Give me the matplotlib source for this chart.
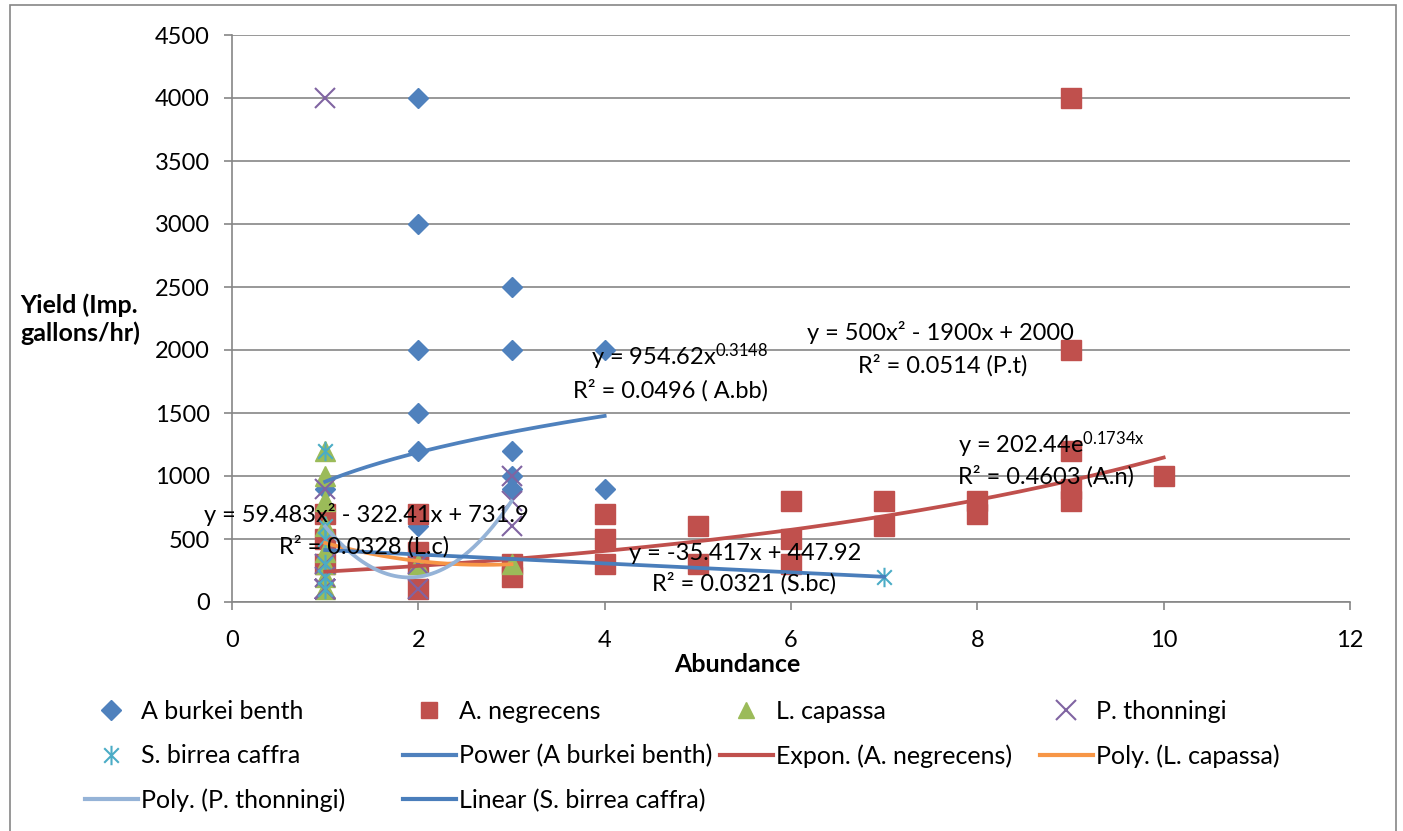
import numpy as np
import matplotlib
matplotlib.use("Agg")
from matplotlib import pyplot as plt
from matplotlib.path import Path
from matplotlib.lines import Line2D
from matplotlib.patches import Rectangle

plt.rcParams['font.family'] = ['Lato', 'DejaVu Sans']
plt.rcParams['mathtext.fontset'] = 'custom'
plt.rcParams['mathtext.rm'] = 'Lato'
plt.rcParams['mathtext.it'] = 'Lato'

# --- data ---
burkei_x = [1, 2, 2, 2, 2, 2, 2, 3, 3, 3, 3, 3, 4, 4]
burkei_y = [900, 4000, 3000, 2000, 1500, 1200, 600, 2500, 2000, 1200, 1000, 900, 2000, 900]

negrecens_x = [1, 1, 1, 2, 2, 2, 2, 3, 3, 4, 4, 4, 5, 5, 6, 6, 6, 7, 7, 8, 8, 9, 9, 9, 9, 9, 10]
negrecens_y = [700, 500, 300, 700, 400, 300, 100, 300, 200, 700, 500, 300, 600, 300,
               800, 500, 300, 800, 600, 800, 700, 4000, 2000, 1200, 900, 800, 1000]

capassa_x = [1, 1, 1, 1, 1, 1, 1, 1, 2, 3]
capassa_y = [1200, 1000, 800, 600, 400, 300, 200, 100, 300, 300]

thonningi_x = [1, 1, 1, 1, 1, 1, 1, 1, 1, 1, 2, 2, 3, 3, 3]
thonningi_y = [4000, 900, 300, 200, 100, 100, 100, 100, 100, 100, 300, 100, 1000, 800, 600]

birrea_x = [1, 1, 1, 1, 1, 1, 7]
birrea_y = [1200, 600, 500, 300, 200, 100, 200]

# trendline coefficients as printed on the chart
power_ab = (954.62, 0.3148)
expon_ab = (202.44, 0.1734)
poly_lc = [59.483, -322.41, 731.9]
poly_pt = [500, -1900, 2000]
linear_sbc = [-35.417, 447.92]

BLUE = '#4F81BD'
RED = '#C0504D'
GREEN = '#9BBB59'
PURPLE = '#8064A2'
CYAN = '#4BACC6'
ORANGE = '#F79646'
LIGHTBLUE = '#95B3D7'
GRID = '#868686'

# excel style asterisk: vertical bar plus an X
star = Path([(0, -1), (0, 1), (-0.75, -0.75), (0.75, 0.75), (-0.75, 0.75), (0.75, -0.75)],
            [Path.MOVETO, Path.LINETO, Path.MOVETO, Path.LINETO, Path.MOVETO, Path.LINETO])

fig = plt.figure(figsize=(14.03, 8.31), dpi=100)
ax = fig.add_axes([232 / 1403, 1 - 602 / 831, (1350 - 232) / 1403, (602 - 35) / 831])

fig.patches.append(Rectangle((10 / 1403, -0.02), (1396 - 10) / 1403, 1.02 - 5 / 831,
                             transform=fig.transFigure, fill=False, ec=GRID, lw=1.2))

ax.plot(burkei_x, burkei_y, 'D', ms=10, color=BLUE, mec=BLUE, zorder=3)
ax.plot(negrecens_x, negrecens_y, 's', ms=14, color=RED, mec=RED, zorder=3)
ax.plot(capassa_x, capassa_y, '^', ms=14, color=GREEN, mec=GREEN, zorder=3)
ax.plot(thonningi_x, thonningi_y, 'x', ms=14, mew=1.5, color=PURPLE, zorder=3)
ax.plot(birrea_x, birrea_y, marker=star, ls='none', ms=14, mew=1.5, color=CYAN, zorder=3)

def span(xs):
    return np.linspace(min(xs), max(xs), 200)

TW = 2.7
xs = span(burkei_x)
ax.plot(xs, power_ab[0] * xs ** power_ab[1], color=BLUE, lw=TW, zorder=4)
xs = span(negrecens_x)
ax.plot(xs, expon_ab[0] * np.exp(expon_ab[1] * xs), color=RED, lw=TW, zorder=4)
xs = span(capassa_x)
ax.plot(xs, np.polyval(poly_lc, xs), color=ORANGE, lw=TW, zorder=4)
xs = span(thonningi_x)
ax.plot(xs, np.polyval(poly_pt, xs), color=LIGHTBLUE, lw=TW, zorder=4)
xs = span(birrea_x)
ax.plot(xs, np.polyval(linear_sbc, xs), color='#4A7EBB', lw=TW, zorder=4)

ax.set_xlim(0, 12)
ax.set_ylim(0, 4500)
ax.set_xticks(range(0, 13, 2))
ax.set_yticks(range(0, 4501, 500))
ax.grid(axis='y', color=GRID, lw=1.2)
ax.set_axisbelow(True)
for s in ['top', 'right']:
    ax.spines[s].set_visible(False)
for s in ['left', 'bottom']:
    ax.spines[s].set_color(GRID)
    ax.spines[s].set_linewidth(1.2)
ax.tick_params(axis='both', colors=GRID, labelcolor='black', labelsize=17,
               length=6, width=1.2)
ax.tick_params(axis='y', pad=10)
ax.tick_params(axis='x', pad=14)

fig.text(737 / 1403, 1 - 664 / 831, 'Abundance', ha='center', va='center',
         fontsize=18, fontweight='bold')
fig.text(20 / 1403, 1 - 319 / 831, 'Yield (Imp.\ngallons/hr)', ha='left', va='center',
         fontsize=18, fontweight='bold', linespacing=1.25)

# trendline labels
def px(x, y):
    return ((x - 232) / 93.17, (602 - y) / 0.126)

lbl = dict(fontsize=17, zorder=6)
ax.text(*px(680, 357), r'y = 954.62x$^{\mathregular{0.3148}}$', ha='center', va='center', **lbl)
ax.text(*px(671, 390), 'R² = 0.0496 ( A.bb)', ha='center', va='center', **lbl)
ax.text(*px(940, 332), 'y = 500x² - 1900x + 2000', ha='center', va='center', **lbl)
ax.text(*px(943, 365), 'R² = 0.0514 (P.t)', ha='center', va='center', **lbl)
ax.text(*px(958, 445), r'y = 202.44e$^{\mathregular{0.1734x}}$', ha='left', va='center', **lbl)
ax.text(*px(958, 476), 'R² = 0.4603 (A.n)', ha='left', va='center', **lbl)
ax.text(*px(366, 515), 'y = 59.483x² - 322.41x + 731.9', ha='center', va='center', **lbl)
ax.text(*px(364, 546), 'R² = 0.0328 (L.c)', ha='center', va='center', **lbl)
ax.text(*px(745, 553), 'y = -35.417x + 447.92', ha='center', va='center', **lbl)
ax.text(*px(744, 583), 'R² = 0.0321 (S.bc)', ha='center', va='center', **lbl)

# legend, four fixed-width columns like excel
def mk(marker, color, ms, mew=1.0):
    return Line2D([], [], marker=marker, ls='none', color=color, mec=color, ms=ms, mew=mew)

def ln(color):
    return Line2D([], [], color=color, lw=3)

columns = [
    ([mk('D', BLUE, 10), mk(star, CYAN, 14, 1.5), ln(LIGHTBLUE)],
     ['A burkei benth', 'S. birrea caffra', 'Poly. (P. thonningi)'], 85),
    ([mk('s', RED, 12), ln(BLUE), ln('#4A7EBB')],
     ['A. negrecens', 'Power (A burkei benth)', 'Linear (S. birrea caffra)'], 403),
    ([mk('^', GREEN, 12), ln(RED)],
     ['L. capassa', 'Expon. (A. negrecens)'], 720),
    ([mk('x', PURPLE, 14, 1.5), ln(ORANGE)],
     ['P. thonningi', 'Poly. (L. capassa)'], 1040),
]
for handles, labels, x0 in columns:
    fig.legend(handles, labels, loc='upper left', bbox_to_anchor=(x0 / 1403, 1 - 700 / 831),
               frameon=False, fontsize=18, handlelength=2.1, handletextpad=0.15,
               labelspacing=0.85, borderpad=0, borderaxespad=0)

fig.savefig('out.png', dpi=100)
